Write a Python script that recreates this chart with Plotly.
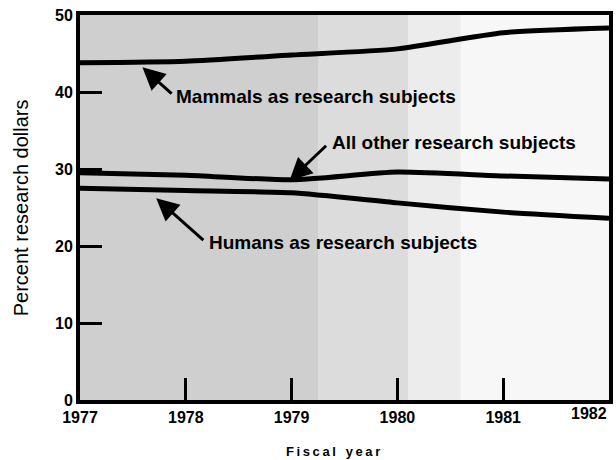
import plotly.graph_objects as go

years = [1977, 1978, 1979, 1980, 1981, 1982]
mammals = [43.8, 44.0, 44.8, 45.6, 47.7, 48.3]
all_other = [29.5, 29.2, 28.6, 29.6, 29.1, 28.7]
humans = [27.5, 27.2, 26.9, 25.6, 24.4, 23.6]

y_ticks = [0, 10, 20, 30, 40, 50]
y_tick_text = ["0", "10", "20", "30", "40", "50"]
x_ticks = [1977, 1978, 1979, 1980, 1981]
x_tick_text = ["1977", "1978", "1979", "1980", "1981"]

labels = {
    "mammals": "Mammals as research subjects",
    "other": "All other research subjects",
    "humans": "Humans as research subjects",
}

fig = go.Figure()
for name, vals in [("mammals", mammals), ("other", all_other), ("humans", humans)]:
    fig.add_trace(go.Scatter(x=years, y=vals, mode="lines", name=labels[name],
                             line=dict(color="black", width=5, shape="spline", smoothing=0.6),
                             showlegend=False, hoverinfo="x+y"))

# scanned-gray background bands
bands = [(0.0, 0.45, "#cfcfcf"), (0.45, 0.62, "#dcdcdc"), (0.62, 0.72, "#ececec"), (0.72, 1.0, "#f7f7f7")]
shapes = []
for x0, x1, c in bands:
    shapes.append(dict(type="rect", xref="x domain", yref="y domain", x0=x0, x1=x1, y0=0, y1=1,
                       fillcolor=c, line=dict(width=0), layer="below"))

annotations = []
font_lbl = dict(family="Liberation Sans, Arial", size=19, color="black")
# arrows (tip at x,y ; tail at ax,ay)
arrows = [
    (1977.59, 43.2, 1977.88, 39.6),
    (1978.98, 28.5, 1979.34, 33.2),
    (1977.72, 26.2, 1978.18, 20.6),
]
for x, y, ax, ay in arrows:
    annotations.append(dict(x=x, y=y, ax=ax, ay=ay, xref="x", yref="y", axref="x", ayref="y",
                            text="", showarrow=True, arrowhead=2, arrowsize=1.5, arrowwidth=3,
                            arrowcolor="black"))
texts = [
    (1977.89, 39.4, labels["mammals"]),
    (1979.36, 33.4, labels["other"]),
    (1978.20, 20.4, labels["humans"]),
]
for x, y, t in texts:
    annotations.append(dict(x=x, y=y, xref="x", yref="y", text="<b>" + t + "</b>", showarrow=False,
                            xanchor="left", yanchor="middle", font=font_lbl))

# last x tick label, kept inside the page
annotations.append(dict(x=1982, y=0, xref="x", yref="y", text="<b>1982</b>", showarrow=False,
                        xanchor="right", yanchor="top", yshift=-3,
                        font=dict(family="Liberation Sans, Arial", size=16, color="black")))
# axis titles
annotations.append(dict(x=-0.112, y=0.5, xref="paper", yref="paper", text="Percent research dollars",
                        showarrow=False, textangle=-90, xanchor="center", yanchor="middle",
                        font=dict(family="Liberation Sans, Arial", size=20, color="black")))
annotations.append(dict(x=0.478, y=-0.135, xref="paper", yref="paper",
                        text="<b>" + "&#8201;".join("Fiscal") + "&#8201;&nbsp;&nbsp;"
                             + "&#8201;".join("year") + "</b>",
                        showarrow=False, xanchor="center", yanchor="middle",
                        font=dict(family="Liberation Sans, Arial", size=13, color="black")))

fig.update_layout(
    width=616, height=460,
    margin=dict(l=80, r=3, t=15, b=60),
    paper_bgcolor="white", plot_bgcolor="white",
    shapes=shapes, annotations=annotations,
    xaxis=dict(range=[1977, 1982], tickvals=x_ticks, ticktext=["<b>%s</b>" % t for t in x_tick_text],
               ticks="inside", ticklen=22, tickwidth=3, tickcolor="black",
               showline=True, linecolor="black", linewidth=4, mirror=True,
               showgrid=False, zeroline=False,
               tickfont=dict(family="Liberation Sans, Arial", size=16, color="black")),
    yaxis=dict(range=[0, 50], tickvals=y_ticks, ticktext=["<b>%s</b>" % t for t in y_tick_text],
               ticks="inside", ticklen=22, tickwidth=3, tickcolor="black",
               showline=True, linecolor="black", linewidth=4, mirror=True,
               showgrid=False, zeroline=False,
               tickfont=dict(family="Liberation Sans, Arial", size=16, color="black")),
)

fig.write_html("out.html", config={"displayModeBar": False},
               post_script="document.body.style.margin='0';document.body.style.overflow='hidden';")
